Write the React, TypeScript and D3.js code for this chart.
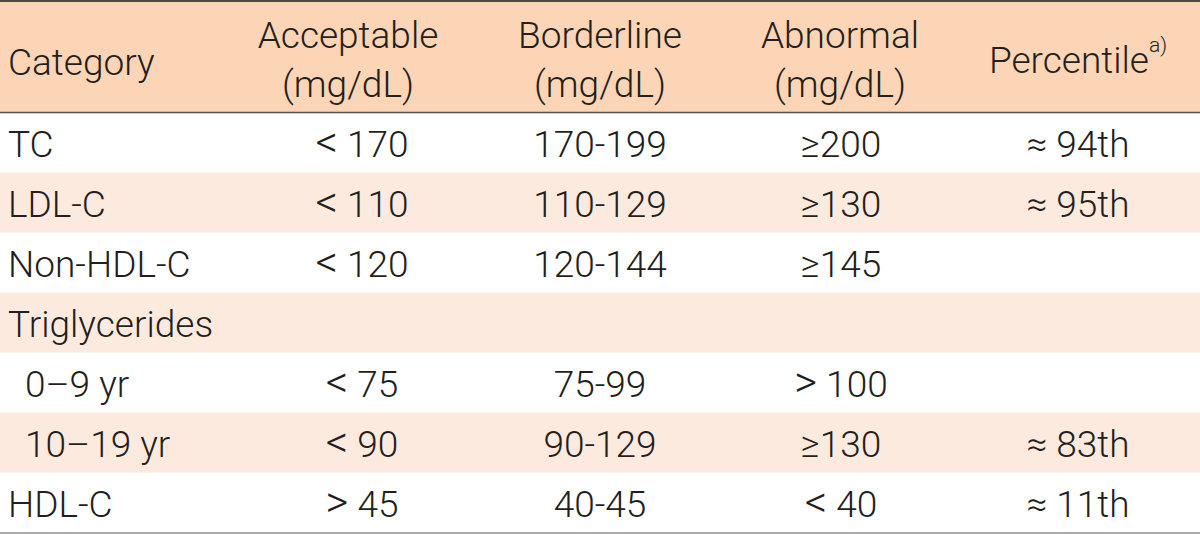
import React from "react";
import * as d3 from "d3";

const categories = ["TC", "LDL-C", "Non-HDL-C", "Triglycerides", "0–9 yr", "10–19 yr", "HDL-C"];
const subRow = [false, false, false, false, true, true, false];
const acceptable = ["< 170", "< 110", "< 120", "", "< 75", "< 90", "> 45"];
const borderline = ["170-199", "110-129", "120-144", "", "75-99", "90-129", "40-45"];
const abnormal = ["≥200", "≥130", "≥145", "", "> 100", "≥130", "< 40"];
const percentile = ["≈ 94th", "≈ 95th", "", "", "", "≈ 83th", "≈ 11th"];
const headerLine1 = ["Acceptable", "Borderline", "Abnormal"];
const headerLine2 = ["(mg/dL)", "(mg/dL)", "(mg/dL)"];

const W = 1200;
const H = 534;
const HEADER_TOP = 1;
const HEADER_BOTTOM = 112.5;
const TABLE_BOTTOM = 532.5;
const FONT = "Roboto, 'Open Sans', sans-serif";
const FS = 37;
const TEXT = "#231f20";

function Cell({ value, x, y, props }: { value: string; x: number; y: number; props: any }) {
  if (value.startsWith("<") || value.startsWith(">")) {
    return (
      <text {...props} x={x} y={y} textAnchor="middle">
        <tspan fontSize={44}>{value[0]}</tspan>
        {value.slice(1)}
      </text>
    );
  }
  return (
    <text {...props} x={x} y={y} textAnchor="middle">{value}</text>
  );
}

export default function App() {
  const y = d3
    .scaleBand<number>()
    .domain(d3.range(categories.length))
    .range([HEADER_BOTTOM, TABLE_BOTTOM]);

  const headerCenters = [348, 600, 840];
  const dataCenters = [362, 600, 841];
  const pctCenter = 1078;

  const textProps = {
    fontFamily: FONT,
    fontSize: FS,
    fontWeight: 300,
    fill: TEXT,
  } as const;

  return (
    <div style={{ position: "absolute", left: 0, top: 0 }}>
      <svg width={W} height={H} style={{ display: "block", background: "#fff" }}>
        <rect x={0} y={HEADER_TOP} width={W} height={HEADER_BOTTOM - HEADER_TOP} fill="#fcd5b6" />
        {categories.map((c, i) =>
          i % 2 === 1 ? (
            <rect key={"bg" + i} x={0} y={y(i)!} width={W} height={y.bandwidth()} fill="#fdeadf" />
          ) : null
        )}
        <line x1={0} x2={W} y1={1} y2={1} stroke="#4f4a48" strokeWidth={2} />
        <line x1={0} x2={W} y1={HEADER_BOTTOM} y2={HEADER_BOTTOM} stroke="#55504e" strokeWidth={1.6} />
        <line x1={0} x2={W} y1={TABLE_BOTTOM + 0.5} y2={TABLE_BOTTOM + 0.5} stroke="#8c8c8c" strokeWidth={1.5} />

        {/* header */}
        <text {...textProps} x={8} y={75}>Category</text>
        {headerLine1.map((h, j) => (
          <text key={"h1" + j} {...textProps} x={headerCenters[j]} y={48} textAnchor="middle">{h}</text>
        ))}
        {headerLine2.map((h, j) => (
          <text key={"h2" + j} {...textProps} x={headerCenters[j]} y={97} textAnchor="middle">{h}</text>
        ))}
        <text {...textProps} x={pctCenter} y={73} textAnchor="middle">
          Percentile
          <tspan fontSize={21} dy={-21}>a)</tspan>
        </text>

        {/* rows */}
        {categories.map((c, i) => {
          const base = y(i)! + 44;
          return (
            <g key={"r" + i}>
              <text {...textProps} x={subRow[i] ? 25 : 8} y={base}>{c}</text>
              <Cell value={acceptable[i]} x={dataCenters[0]} y={base} props={textProps} />
              <Cell value={borderline[i]} x={dataCenters[1]} y={base} props={textProps} />
              <Cell value={abnormal[i]} x={dataCenters[2]} y={base} props={textProps} />
              <Cell value={percentile[i]} x={pctCenter} y={base} props={textProps} />
            </g>
          );
        })}
      </svg>
    </div>
  );
}
